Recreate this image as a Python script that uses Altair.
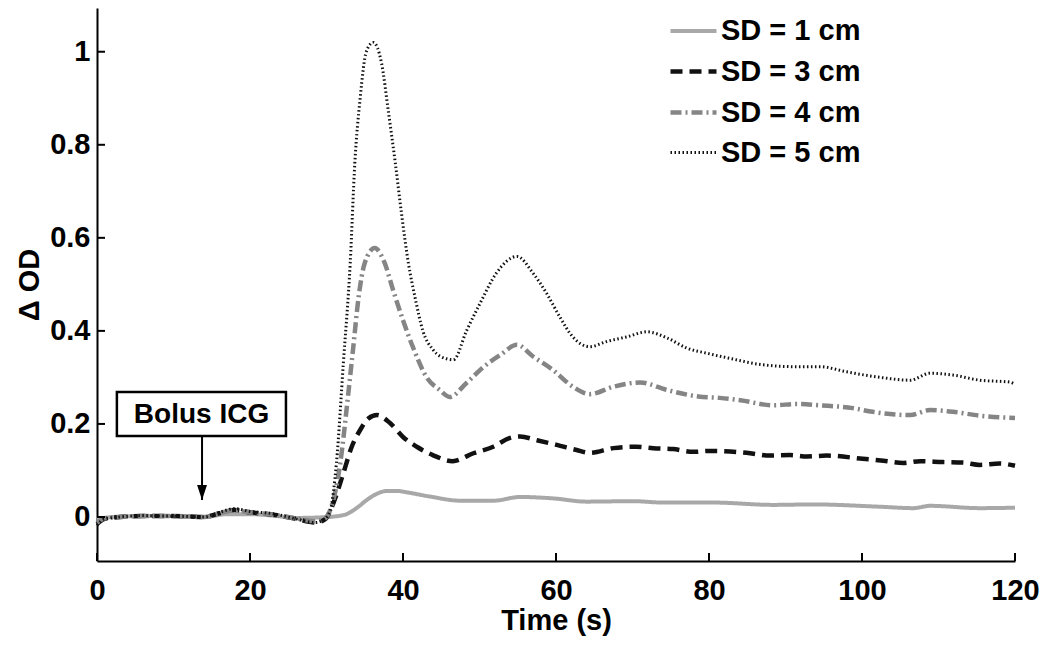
import altair as alt
import pandas as pd

series_names = ["SD = 1 cm", "SD = 3 cm", "SD = 4 cm", "SD = 5 cm"]

t_sd1 = [0, 2, 6, 10, 14, 17, 20, 23, 26, 29, 31, 32.6, 34, 35.3, 36.6, 37.9, 39.2, 40.5, 43.5, 47.5,
         51.8, 55.3, 59.6, 64.0, 70.1, 74.0, 80.6, 88.4, 93.6, 102.4, 106.7, 108.9, 115.4, 120]
v_sd1 = [-0.005, 0.0, 0.002, 0.002, 0.0, 0.006, 0.006, 0.003, -0.002, -0.001, 0.001, 0.006, 0.02, 0.037,
         0.05, 0.056, 0.056, 0.053, 0.044, 0.035, 0.035, 0.043, 0.04, 0.033, 0.034, 0.031, 0.031, 0.026,
         0.027, 0.022, 0.019, 0.024, 0.019, 0.02]

t_sd3 = [0, 1, 3, 6, 9, 12, 14, 16, 18, 20, 23, 26, 28.5, 29.8, 30.9, 32.2, 33.3, 34.4, 35.5, 36.6,
         38.3, 40.0, 41.8, 43.9, 46.5, 49.2, 51.8, 54.0, 55.3, 57.5, 60.1, 62.7, 64.4, 67.5, 70.5, 72.7,
         75.3, 77.9, 80.1, 84.9, 88.0, 90.6, 92.8, 95.4, 100.1, 102.8, 105.4, 107.6, 110.6, 113.2, 115.4,
         118.0, 120]
v_sd3 = [-0.015, -0.004, 0.0, 0.002, 0.002, 0.001, 0.0, 0.008, 0.015, 0.01, 0.005, -0.004, -0.012, -0.005,
         0.03, 0.094, 0.151, 0.187, 0.212, 0.219, 0.202, 0.172, 0.151, 0.133, 0.12, 0.137, 0.151, 0.17,
         0.173, 0.165, 0.155, 0.144, 0.138, 0.148, 0.151, 0.148, 0.146, 0.14, 0.142, 0.138, 0.132, 0.133,
         0.13, 0.132, 0.125, 0.121, 0.116, 0.12, 0.118, 0.117, 0.112, 0.115, 0.11]

t_sd4 = [0, 1, 3, 6, 9, 12, 14, 16, 18, 20, 23, 26, 28.5, 29.7, 30.6, 31.8, 32.8, 33.5, 34.2, 35.0,
         36.3, 37.6, 38.7, 40.0, 41.3, 43.1, 44.8, 46.1, 48.3, 50.5, 52.7, 54.9, 57.0, 59.6, 62.2, 64.4,
         67.5, 71.0, 74.5, 78.6, 81.4, 84.1, 88.4, 91.5, 94.5, 98.8, 101.4, 106.3, 108.9, 111.9, 115.8, 120]
v_sd4 = [-0.012, -0.003, 0.0, 0.002, 0.002, 0.001, 0.0, 0.008, 0.014, 0.01, 0.005, -0.003, -0.009, -0.004,
         0.02, 0.116, 0.258, 0.365, 0.473, 0.546, 0.578, 0.546, 0.488, 0.423, 0.365, 0.30, 0.273, 0.258,
         0.288, 0.322, 0.348, 0.37, 0.345, 0.316, 0.28, 0.264, 0.28, 0.289, 0.273, 0.259, 0.256, 0.251,
         0.24, 0.243, 0.24, 0.234, 0.226, 0.219, 0.23, 0.226, 0.217, 0.213]

t_sd5 = [0, 1, 3, 6, 9, 12, 14, 16, 18, 20, 23, 26, 28.5, 29.7, 30.5, 31.3, 32.2, 33.1, 33.7, 34.4, 35.2,
         36.1, 37.2, 38.1, 39.0, 39.8, 40.7, 41.6, 42.6, 43.9, 45.7, 46.6, 48.3, 50.1, 52.2, 54.9, 57.0,
         58.8, 60.5, 62.2, 64.4, 66.6, 69.2, 71.9, 74.5, 77.1, 79.7, 82.7, 87.1, 91.5, 94.5, 98.0, 102.4,
         106.3, 108.9, 111.9, 115.4, 119.3, 120]
v_sd5 = [-0.018, -0.004, 0.0, 0.003, 0.002, 0.001, 0.0, 0.01, 0.018, 0.012, 0.007, -0.004, -0.012, -0.005,
         0.015, 0.116, 0.33, 0.546, 0.76, 0.90, 1.0, 1.02, 0.975, 0.87, 0.76, 0.653, 0.546, 0.47, 0.40,
         0.36, 0.34, 0.338, 0.40, 0.46, 0.524, 0.56, 0.524, 0.48, 0.43, 0.387, 0.366, 0.377, 0.387, 0.398,
         0.385, 0.363, 0.352, 0.341, 0.327, 0.323, 0.323, 0.312, 0.30, 0.294, 0.309, 0.305, 0.294, 0.29,
         0.285]

x_ticks = [0, 20, 40, 60, 80, 100, 120]
y_ticks = [0, 0.2, 0.4, 0.6, 0.8, 1.0]

annot_text = ["Bolus ICG"]
annot_x = [13.66]
annot_y = [0.221]
box_x = [2.6, 24.7]
box_y = [0.174, 0.2686]
arrow_x = [13.73]
arrow_y = [0.172, 0.0365]

colors = ["#a8a8a8", "#111111", "#858585", "#111111"]
dashes = [[1, 0], [12, 7], [11, 4, 2, 4], [1.5, 2.5]]
widths = [4, 4.5, 4.5, 3]

rows = []
for name, ts, vs in zip(series_names, [t_sd1, t_sd3, t_sd4, t_sd5], [v_sd1, v_sd3, v_sd4, v_sd5]):
    for t, v in zip(ts, vs):
        rows.append({"series": name, "t": t, "v": v})
df = pd.DataFrame(rows)

FONT = "Liberation Sans"
FS = 29
W, H = 918, 553
xscale = alt.Scale(domain=[0, 120], nice=False, zero=False)
yscale = alt.Scale(domain=[-0.0946, 1.094], nice=False, zero=False)

lines = alt.Chart(df).mark_line(interpolate="monotone", strokeCap="butt").encode(
    x=alt.X("t:Q", scale=xscale,
            axis=alt.Axis(values=x_ticks, title="Time (s)", labelPadding=15, titlePadding=1,
                          labelFlush=False)),
    y=alt.Y("v:Q", scale=yscale,
            axis=alt.Axis(values=y_ticks, format="~g", title="Δ OD", labelPadding=7, titlePadding=5,
                          labelFlush=False)),
    color=alt.Color("series:N", scale=alt.Scale(domain=series_names, range=colors),
                    legend=alt.Legend(title=None, orient="none", legendX=571, legendY=-2,
                                      symbolType="stroke", symbolSize=2116, labelOffset=2,
                                      rowPadding=-5, padding=0, labelFont=FONT, labelFontSize=FS,
                                      labelFontWeight="bold", labelColor="black", labelLimit=400)),
    strokeDash=alt.StrokeDash("series:N", scale=alt.Scale(domain=series_names, range=dashes),
                              legend=alt.Legend(title=None)),
    strokeWidth=alt.StrokeWidth("series:N", scale=alt.Scale(type="ordinal", domain=series_names, range=widths),
                                legend=alt.Legend(title=None)),
)

ytick_df = pd.DataFrame({"v": y_ticks})
xtick_df = pd.DataFrame({"t": x_ticks})
yt = alt.Chart(ytick_df).mark_rule(color="black", strokeWidth=2).encode(
    y=alt.Y("v:Q", scale=yscale), x=alt.value(0), x2=alt.value(8))
xt = alt.Chart(xtick_df).mark_rule(color="black", strokeWidth=2).encode(
    x=alt.X("t:Q", scale=xscale), y=alt.value(H), y2=alt.value(H - 8))

box_df = pd.DataFrame({"x1": [box_x[0]], "x2": [box_x[1]], "y1": [box_y[0]], "y2": [box_y[1]]})
box = alt.Chart(box_df).mark_rect(fill="white", stroke="black", strokeWidth=2.5).encode(
    x=alt.X("x1:Q", scale=xscale), x2="x2:Q", y=alt.Y("y1:Q", scale=yscale), y2="y2:Q")
txt_df = pd.DataFrame({"t": annot_x, "v": annot_y, "label": annot_text})
txt = alt.Chart(txt_df).mark_text(font=FONT, fontSize=28, fontWeight="bold", color="black",
                                  baseline="middle", align="center", dy=1).encode(
    x=alt.X("t:Q", scale=xscale), y=alt.Y("v:Q", scale=yscale), text="label:N")
arr_df = pd.DataFrame({"t": arrow_x, "v1": [arrow_y[0]], "v2": [arrow_y[1]]})
arrow = alt.Chart(arr_df).mark_rule(color="black", strokeWidth=2).encode(
    x=alt.X("t:Q", scale=xscale), y=alt.Y("v1:Q", scale=yscale), y2="v2:Q")
head_df = pd.DataFrame({"t": arrow_x, "v": [arrow_y[1]]})
head = alt.Chart(head_df).mark_point(shape="M-0.33,-1L0,0L0.33,-1Z", filled=True, color="black",
                                     size=900, opacity=1).encode(
    x=alt.X("t:Q", scale=xscale), y=alt.Y("v:Q", scale=yscale))

chart = alt.layer(lines, yt, xt, box, txt, arrow, head).properties(
    width=W, height=H,
    autosize=alt.AutoSizeParams(type="none"),
    padding={"left": 89, "top": 0, "right": 26, "bottom": 80},
).configure_view(strokeWidth=0).configure_axis(
    grid=False, ticks=False, tickSize=0, domainColor="black", domainWidth=2,
    labelFont=FONT, labelFontSize=FS, labelFontWeight="bold", labelColor="black",
    titleFont=FONT, titleFontSize=FS, titleFontWeight="bold", titleColor="black",
)

chart.save("out.html", embed_options={"renderer": "svg", "actions": False})
